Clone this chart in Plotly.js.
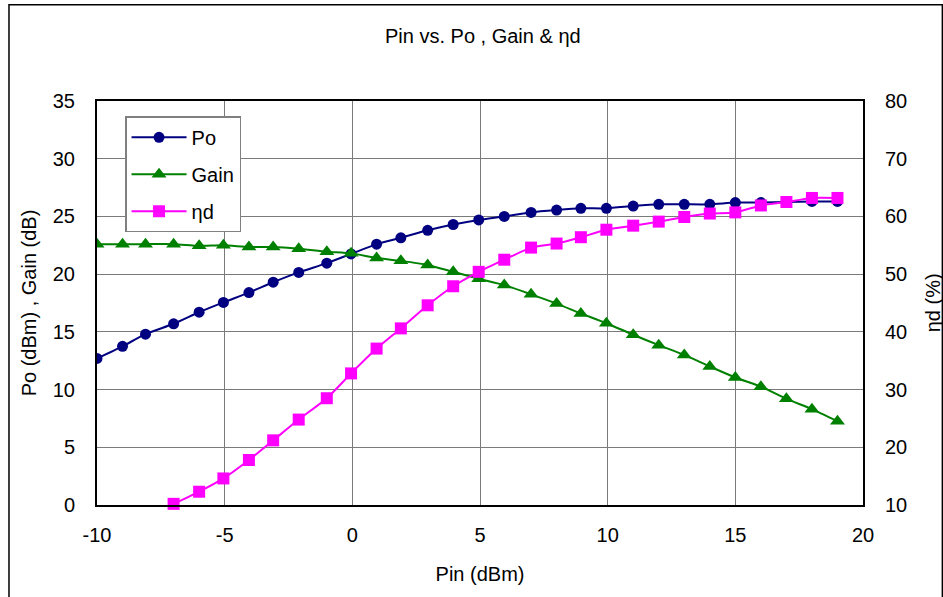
<!DOCTYPE html>
<html>
<head>
<meta charset="utf-8">
<script src="https://cdn.plot.ly/plotly-3.0.1.min.js"></script>
<style>html,body{margin:0;padding:0;background:#fff;}#chart{width:943px;height:597px;}</style>
</head>
<body>
<div id="chart"></div>
<script>
// Pin (dBm) sample points
var pin = [-10, -9, -8.1, -7, -6, -5.05, -4.05, -3.1, -2.1, -1, -0.05, 0.95, 1.9, 2.95, 3.95,
           4.95, 5.95, 7, 8, 8.95, 9.95, 11, 12, 13, 14, 15, 16, 17, 18, 19];
// Po (dBm)
var po = [12.7, 13.75, 14.8, 15.7, 16.7, 17.55, 18.4, 19.3, 20.15, 20.95, 21.75, 22.6, 23.15, 23.8, 24.3,
          24.7, 25.0, 25.35, 25.55, 25.7, 25.7, 25.9, 26.05, 26.05, 26.05, 26.2, 26.2, 26.25, 26.3, 26.3];
// Gain (dB)
var gain = [22.6, 22.6, 22.6, 22.6, 22.45, 22.5, 22.35, 22.35, 22.2, 21.95, 21.8, 21.4, 21.15, 20.8, 20.2,
            19.6, 19.05, 18.25, 17.45, 16.6, 15.75, 14.75, 13.85, 13.0, 12.0, 11.05, 10.25, 9.2, 8.3, 7.25];
// ηd (%) from Pin = -8 onwards
var etaPin = pin.slice(2);
var eta = [8.3, 10.2, 12.3, 14.6, 17.8, 21.2, 24.8, 28.5, 32.8, 37.1, 40.6, 44.6, 47.9,
           50.4, 52.5, 54.6, 55.3, 56.4, 57.7, 58.4, 59.1, 59.9, 60.5, 60.7, 61.9, 62.5, 63.2, 63.2];

var xTicks = [-10, -5, 0, 5, 10, 15, 20];
var yTicks = [0, 5, 10, 15, 20, 25, 30, 35];
var y2Ticks = [10, 20, 30, 40, 50, 60, 70, 80];

var FONT = 'Liberation Sans, Arial, sans-serif';

// hide the marker of the off-scale point (below the axis range)
var etaOpacity = eta.map(function (v) { return v < 10 ? 0 : 1; });

var traces = [
  {x: pin, y: po, name: 'Po', type: 'scatter', mode: 'lines+markers', legendgroup: 'a',
   line: {color: '#000080', width: 2, shape: 'spline', smoothing: 0.6},
   marker: {symbol: 'circle', size: 11, color: '#000080'}},
  {x: pin, y: gain, name: 'Gain', type: 'scatter', mode: 'lines+markers', legendgroup: 'b',
   line: {color: '#008000', width: 2, shape: 'spline', smoothing: 0.6},
   marker: {symbol: 'triangle-up', size: 13, color: '#008000'}},
  {x: etaPin, y: eta, name: 'ηd', type: 'scatter', mode: 'lines+markers', yaxis: 'y2', legendgroup: 'c',
   cliponaxis: false,
   line: {color: '#FF00FF', width: 2, shape: 'spline', smoothing: 0.6},
   marker: {symbol: 'square', size: 12, color: '#FF00FF', opacity: etaOpacity}}
];

var layout = {
  width: 943, height: 597,
  margin: {l: 97, r: 80, t: 101, b: 92, pad: 0},
  paper_bgcolor: '#ffffff', plot_bgcolor: '#ffffff',
  font: {family: FONT, size: 20, color: '#000000'},
  showlegend: true,
  title: {text: 'Pin vs. Po , Gain &amp; ηd', font: {family: FONT, size: 20, color: '#000'},
          x: 0.512, xref: 'container', xanchor: 'center', y: 0.94, yref: 'container', yanchor: 'middle'},
  xaxis: {
    range: [-10, 20], tickvals: xTicks, ticktext: xTicks.map(String),
    showgrid: true, gridcolor: '#7a7a7a', gridwidth: 1,
    showline: true, linecolor: '#000000', linewidth: 2, mirror: true,
    ticks: '', zeroline: false, ticklabelstandoff: 11,
    tickfont: {family: FONT, size: 20},
    automargin: true,
    title: {text: 'Pin (dBm)', font: {family: FONT, size: 20}, standoff: 22}
  },
  yaxis: {
    range: [0, 35], tickvals: yTicks, ticktext: yTicks.map(String),
    showgrid: true, gridcolor: '#7a7a7a', gridwidth: 1,
    showline: true, linecolor: '#000000', linewidth: 2,
    ticks: '', zeroline: false, ticklabelstandoff: 16,
    tickfont: {family: FONT, size: 20},
    automargin: true,
    title: {text: 'Po (dBm) , Gain (dB)', font: {family: FONT, size: 20}, standoff: 11}
  },
  yaxis2: {
    range: [10, 80], tickvals: y2Ticks, ticktext: y2Ticks.map(String),
    overlaying: 'y', side: 'right', showgrid: false,
    showline: true, linecolor: '#000000', linewidth: 2,
    ticks: '', zeroline: false, ticklabelstandoff: 16,
    tickfont: {family: FONT, size: 20},
    automargin: false
  },
  annotations: [
    {text: 'ηd (%)', xref: 'paper', yref: 'paper', x: 1.0918, y: 0.5, xanchor: 'center', yanchor: 'middle',
     textangle: -90, showarrow: false, font: {family: FONT, size: 20, color: '#000'}}
  ],
  legend: {
    x: 0.0366, y: 0.962, xanchor: 'left', yanchor: 'top',
    bgcolor: '#ffffff', bordercolor: '#808080', borderwidth: 1.5,
    font: {family: FONT, size: 20}, tracegroupgap: 8, traceorder: 'grouped',
    itemwidth: 55
  },
  shapes: [
    {type: 'rect', xref: 'paper', yref: 'paper', x0: -0.1149, x1: 1.1036, y0: -0.3, y1: 1.238,
     line: {color: '#000000', width: 1.5}, fillcolor: 'rgba(0,0,0,0)', layer: 'below'}
  ]
};

Plotly.newPlot('chart', traces, layout, {displayModeBar: false, staticPlot: true});
</script>
</body>
</html>
